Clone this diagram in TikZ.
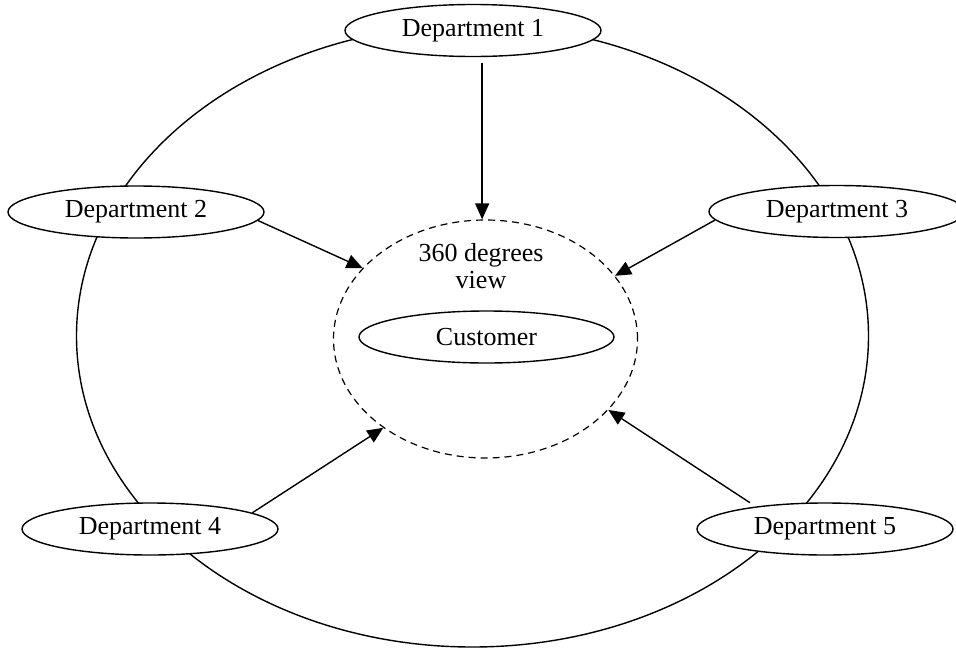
\documentclass[tikz,border=0pt]{standalone}
\usepackage{fontspec}
\setmainfont{Liberation Serif}
\usetikzlibrary{shapes.geometric,arrows.meta}
\begin{document}
\begin{tikzpicture}[x=1pt,y=-1pt,
  txt/.style={font=\fontsize{26}{27}\selectfont},
  oval/.style={draw, ellipse, fill=white, line width=1.4pt,
    minimum width=256pt, minimum height=52pt, inner sep=0pt, txt},
  view/.style={draw, ellipse, dashed, dash pattern=on 7pt off 5pt,
    line width=1.2pt, minimum width=304pt, minimum height=238pt, inner sep=0pt},
  arr/.style={line width=1.4pt, -{Triangle[length=16pt,width=14pt]}}]
\useasboundingbox (0,0) rectangle (956,648);

% outer ring linking the departments
\draw[line width=1.4pt] (472.5,336) ellipse [x radius=396, y radius=311];

% the shared view around the customer
\node[view] (view) at (485.5,339) {};
\node[txt, align=center] (lbl) at (481,266) {360 degrees\\view};
\node[oval, minimum width=255pt] (cust) at (486.5,337) {Customer};

% departments on the ring
\node[oval] (d1) at (473,30.5) {Department 1};
\node[oval] (d2) at (136,212) {Department 2};
\node[oval] (d3) at (837,211.5) {Department 3};
\node[oval] (d4) at (150,529) {Department 4};
\node[oval] (d5) at (825,529) {Department 5};

% each department feeds the view
\draw[arr, shorten <=6pt] (d1.-71) -- (d1.-71 |- view.north);
\draw[arr] (d2.-4) -- (view.150);
\draw[arr] (d3.184) -- (view.26);
\draw[arr] (d4.9) -- (view.221);
\draw[arr, shorten <=7pt] (d5.162) -- (view.-30);
\end{tikzpicture}
\end{document}
